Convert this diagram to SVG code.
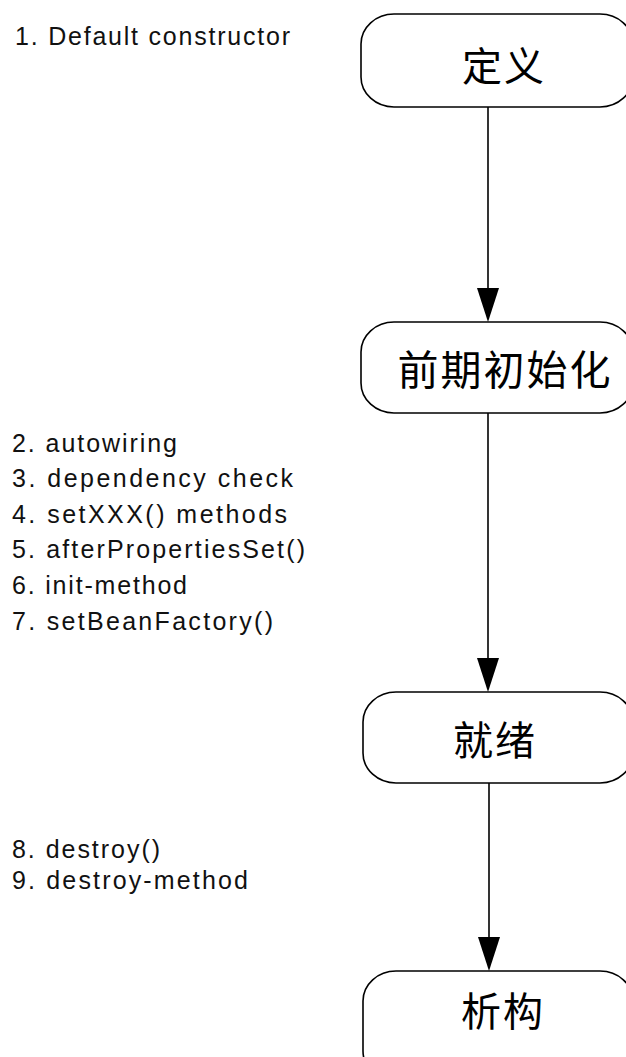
<svg xmlns="http://www.w3.org/2000/svg" width="626" height="1057" viewBox="0 0 626 1057">
<style>
.box{fill:#fff;stroke:#000;stroke-width:1.6}
.cjk{font-family:"Noto Sans CJK SC","Noto Sans CJK JP",sans-serif;font-size:40px;fill:#000;text-anchor:middle;letter-spacing:2px}
.lbl{font-family:"Liberation Sans",Arial,sans-serif;font-size:25px;fill:#111}
.edge{stroke:#000;stroke-width:1.6;fill:none}
.head{fill:#000}
</style>
<rect width="626" height="1057" fill="#fff"/>
<g id="connectors">
<line class="edge" x1="488" y1="107" x2="488" y2="290"/>
<polygon class="head" points="477,288 499,288 488,322"/>
<line class="edge" x1="488" y1="413" x2="488" y2="660"/>
<polygon class="head" points="477,658 499,658 488,692"/>
<line class="edge" x1="489" y1="783" x2="489" y2="939"/>
<polygon class="head" points="478,937 500,937 489,971"/>
</g>
<g id="node-define">
<rect class="box" x="361" y="14" width="272" height="93" rx="33" ry="30"/>
<text class="cjk" x="504" y="81">定义</text>
</g>
<g id="node-preinit">
<rect class="box" x="361" y="322" width="272" height="91" rx="33" ry="30"/>
<text class="cjk" x="505" y="385" style="font-size:41px">前期初始化</text>
</g>
<g id="node-ready">
<rect class="box" x="363" y="692" width="270" height="91" rx="33" ry="30"/>
<text class="cjk" x="495" y="755">就绪</text>
</g>
<g id="node-destruct">
<rect class="box" x="363" y="971" width="270" height="110" rx="33" ry="30"/>
<text class="cjk" x="503" y="1026">析构</text>
</g>
<g id="labels">
<text class="lbl" x="15" y="45" textLength="275" lengthAdjust="spacing">1. Default constructor</text>
<text class="lbl" x="12" y="452" textLength="165" lengthAdjust="spacing">2. autowiring</text>
<text class="lbl" x="12" y="487" textLength="281" lengthAdjust="spacing">3. dependency check</text>
<text class="lbl" x="12" y="523" textLength="275" lengthAdjust="spacing">4. setXXX() methods</text>
<text class="lbl" x="12" y="558" textLength="293" lengthAdjust="spacing">5. afterPropertiesSet()</text>
<text class="lbl" x="12" y="594" textLength="175" lengthAdjust="spacing">6. init-method</text>
<text class="lbl" x="12" y="630" textLength="261" lengthAdjust="spacing">7. setBeanFactory()</text>
<text class="lbl" x="12" y="858" textLength="148" lengthAdjust="spacing">8. destroy()</text>
<text class="lbl" x="12" y="889" textLength="236" lengthAdjust="spacing">9. destroy-method</text>
</g>
</svg>
